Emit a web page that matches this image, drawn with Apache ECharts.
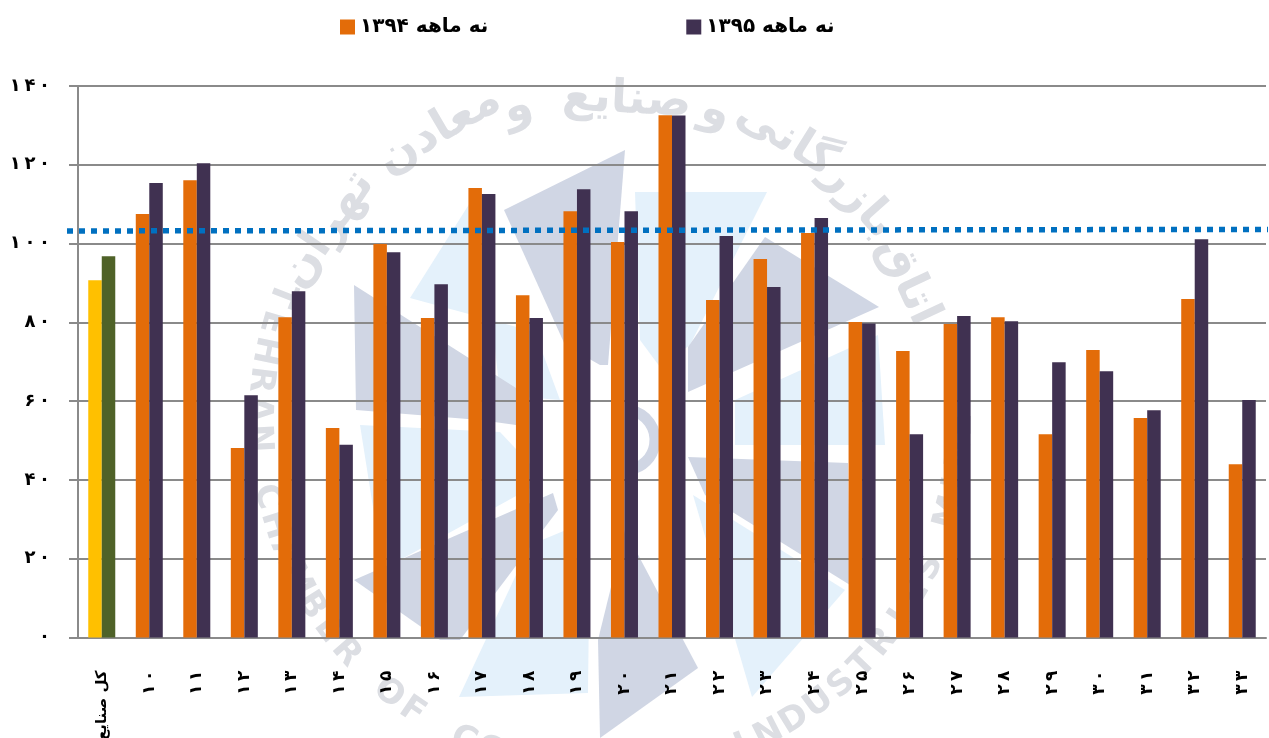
<!DOCTYPE html>
<html><head><meta charset="utf-8">
<style>html,body{margin:0;padding:0;background:#fff}#c{width:1269px;height:738px}</style>
<script src="https://cdn.jsdelivr.net/npm/echarts@6/dist/echarts.min.js"></script>
</head><body><div id="c"></div>
<script>
const categories = ['کل صنایع','۱۰','۱۱','۱۲','۱۳','۱۴','۱۵','۱۶','۱۷','۱۸','۱۹','۲۰','۲۱','۲۲','۲۳','۲۴','۲۵','۲۶','۲۷','۲۸','۲۹','۳۰','۳۱','۳۲','۳۳'];
const nine1394 = [90.7,107.5,116.1,48.1,81.3,53.2,99.9,81.1,114.1,86.9,108.2,100.4,132.6,85.7,96.1,102.7,80.1,72.7,79.6,81.3,51.6,73,55.7,85.9,44];
const nine1395 = [96.8,115.4,120.4,61.5,87.9,48.9,97.8,89.7,112.6,81.1,113.8,108.2,132.5,101.9,89,106.5,79.7,51.6,81.6,80.3,69.9,67.6,57.7,101.1,60.3];
const refLine = [[0,103.2],[1,103.6]];
const names = ['نه ماهه ۱۳۹۴','نه ماهه ۱۳۹۵'];
const fa = n => String(n).replace(/\d/g,d=>'۰۱۲۳۴۵۶۷۸۹'[d]);
const isDigits = s => /^[۰-۹]+$/.test(s);
const spaced = s => isDigits(s) ? s.split('').join('\u2009') : s;
const font = '"DejaVu Sans"';

// Faint background logo (decoration only, not data)
const wmGray = '#d0d6e4', wmBlue = '#e4f1fb', wmText = '#dcdee3';
const wmBlue_polys = [
  [[478,190],[410,298],[535,332],[560,400],[500,395]],
  [[635,192],[767,192],[690,345],[660,367],[640,340]],
  [[878,335],[735,400],[735,445],[885,445]],
  [[693,495],[752,697],[845,590]],
  [[360,425],[500,432],[545,480],[400,560],[375,520]],
  [[530,545],[590,520],[588,693],[459,697]]
];
const wmGray_polys = [
  [[625,150],[504,210],[565,345],[600,365],[608,365]],
  [[765,237],[879,307],[688,392],[688,347]],
  [[688,457],[848,463],[850,585],[705,495]],
  [[625,530],[698,668],[600,738],[598,640]],
  [[354,580],[553,493],[558,510],[460,640],[440,640]],
  [[354,285],[516,388],[516,425],[480,420],[356,410]]
];
const wmCx = 610, wmCy = 420;
const wmWords = [['اتاق',65,328],['بازر',48.5,332],['گانی',32,332],['و',19,325],['صنایع',3,320],['و',-16.5,325],['معادن',-30.5,336],['تهران',-56,340]];
const wmLeft = 'TEHRAN CHAMBER OF CO', wmRight = 'INDUSTRIES MINE';
const graphicEls = [];
wmBlue_polys.forEach(p=>graphicEls.push({type:'polygon',z:-10,silent:true,shape:{points:p},style:{fill:wmBlue}}));
wmGray_polys.forEach(p=>graphicEls.push({type:'polygon',z:-9,silent:true,shape:{points:p},style:{fill:wmGray}}));
graphicEls.push({type:'arc',z:-9,silent:true,shape:{cx:625,cy:440,r:30,startAngle:-1.4,endAngle:1.4},style:{stroke:wmGray,lineWidth:11,fill:'none'}});
wmWords.forEach(([w,a,r])=>{
  const t=a*Math.PI/180;
  graphicEls.push({type:'text',z:-8,silent:true,x:wmCx+r*Math.sin(t),y:wmCy-r*Math.cos(t),rotation:-t,
    style:{text:w,fill:wmText,font:'bold 46px "DejaVu Sans"',align:'center',verticalAlign:'middle'}});
});
function ringLetters(str,start,step){
  [...str].forEach((c,i)=>{
    if(c===' ')return;
    const t=(start+step*i)*Math.PI/180;
    graphicEls.push({type:'text',z:-8,silent:true,x:wmCx-352*Math.sin(t),y:wmCy+352*Math.cos(t),rotation:-t,
      style:{text:c,fill:wmText,font:'bold 34px "DejaVu Sans"',align:'center',verticalAlign:'middle'}});
  });
}
ringLetters(wmLeft,111,-4.8);
ringLetters(wmRight,-22,-4.8);

const chart = echarts.init(document.getElementById('c'),null,{renderer:'canvas'});
chart.setOption({
  animation:false,
  backgroundColor:'#fff',
  graphic:{elements:graphicEls},
  legend:{left:335,top:12,icon:'rect',itemWidth:15,itemHeight:15,itemGap:198,data:names,
    textStyle:{fontFamily:font,fontWeight:'bold',fontSize:20,color:'#000'}},
  grid:[{left:78,right:3,top:86,bottom:100.5,outerBoundsMode:'none'},{left:67,right:1,top:86,bottom:100.5,outerBoundsMode:'none'}],
  xAxis:[{type:'category',data:categories,gridIndex:0,
      axisLine:{lineStyle:{color:'#8a8a8a',width:2}},
      axisTick:{length:8,lineStyle:{color:'#8a8a8a',width:2}},
      axisLabel:{rotate:90,margin:33,interval:0,fontFamily:font,fontWeight:'bold',fontSize:17,color:'#000',
        formatter:s=>isDigits(s)?spaced(s):'{k|'+s+'}',
        rich:{k:{fontFamily:font,fontWeight:'bold',fontSize:15,color:'#000'}}}},
    {type:'value',gridIndex:1,min:0,max:1,show:false}],
  yAxis:[{type:'value',gridIndex:0,min:0,max:140,interval:20,
      axisLine:{show:true,lineStyle:{color:'#8a8a8a',width:2}},
      axisTick:{show:true,length:9,lineStyle:{color:'#8a8a8a',width:2}},
      splitLine:{lineStyle:{color:'#8a8a8a',width:2}},
      axisLabel:{margin:28,fontFamily:font,fontWeight:'bold',fontSize:18,color:'#000',
        formatter:v=>spaced(fa(v))}},
    {type:'value',gridIndex:1,min:0,max:140,show:false}],
  series:[
    {name:names[0],type:'bar',barWidth:13.5,barGap:0,itemStyle:{color:'#E36C09'},
      data:nine1394.map((v,i)=>i===0?{value:v,itemStyle:{color:'#FFC000'}}:v)},
    {name:names[1],type:'bar',barWidth:13.5,barGap:0,itemStyle:{color:'#403151'},
      data:nine1395.map((v,i)=>i===0?{value:v,itemStyle:{color:'#4F6228'}}:v)},
    {type:'line',xAxisIndex:1,yAxisIndex:1,data:refLine,symbol:'none',z:5,silent:true,
      lineStyle:{color:'#0070C0',width:5.5,type:[6,6]}}
  ]
});
</script></body></html>
